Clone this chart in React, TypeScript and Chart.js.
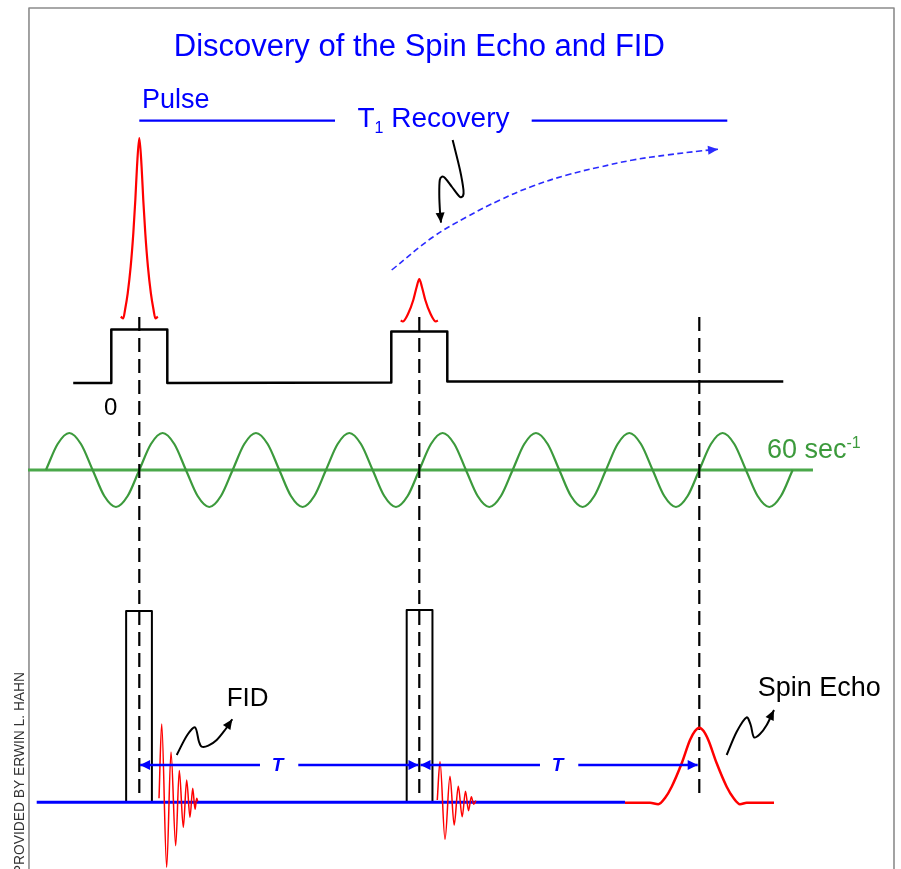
import React, { useEffect, useRef } from "react";
import { Chart, registerables } from "chart.js";

Chart.register(...registerables);

// x axis: time in ms from the centre of the first pulse (tau = 50 ms = three cycles of 60 Hz)
// y axis: vertical position on the sheet (diagram units, 0 = top)
const TIME_MIN = -24.875;
const TIME_MAX = 136.02;
const SHEET_TOP = 0;
const SHEET_BOTTOM = 869;

// ---------- data ----------
// black RF gate trace
const gateT = [-11.8, -5, -5, 5, 5, 45, 45, 55, 55, 115];
const gateY = [383, 383, 329.5, 329.5, 383, 382.5, 331.5, 331.5, 381.5, 381.5];

// red pulse envelopes
const pulse1T = [-3.32, -2.86, -2.55, -2.07, -1.54, -1.07, -0.71, -0.41, 0, 0.41, 0.71, 1.07, 1.54, 2.07, 2.55, 2.86, 3.32];
const pulse1Y = [316.7, 318.3, 310, 293.3, 266.7, 233.3, 200, 166.7, 138, 166.7, 200, 233.3, 266.7, 293.3, 310, 318.3, 316.7];
const pulse2T = [46.68, 47.04, 48.04, 48.93, 49.54, 50, 50.46, 51.07, 51.96, 52.96, 53.32];
const pulse2Y = [320.5, 321.5, 313.3, 300, 286.7, 279, 286.7, 300, 313.3, 321.5, 320.5];

// 60 Hz reference sine, sampled every eighth of a cycle
const sineT = [
  -16.67, -14.58, -12.5, -10.42, -8.33, -6.25, -4.17, -2.08,
  0, 2.08, 4.17, 6.25, 8.33, 10.42, 12.5, 14.58,
  16.67, 18.75, 20.83, 22.92, 25, 27.08, 29.17, 31.25,
  33.33, 35.42, 37.5, 39.58, 41.67, 43.75, 45.83, 47.92,
  50, 52.08, 54.17, 56.25, 58.33, 60.42, 62.5, 64.58,
  66.67, 68.75, 70.83, 72.92, 75, 77.08, 79.17, 81.25,
  83.33, 85.42, 87.5, 89.58, 91.67, 93.75, 95.83, 97.92,
  100, 102.08, 104.17, 106.25, 108.33, 110.42, 112.5, 114.58,
  116.67,
];
const sineY = [
  470, 444, 433, 444, 470, 496, 507, 496,
  470, 444, 433, 444, 470, 496, 507, 496,
  470, 444, 433, 444, 470, 496, 507, 496,
  470, 444, 433, 444, 470, 496, 507, 496,
  470, 444, 433, 444, 470, 496, 507, 496,
  470, 444, 433, 444, 470, 496, 507, 496,
  470, 444, 433, 444, 470, 496, 507, 496,
  470, 444, 433, 444, 470, 496, 507, 496,
  470,
];
const sineAxisT = [-19.875, 120.3];
const sineAxisY = [470, 470];

// timing markers (pulse 1, pulse 2, echo)
const markerT = [0, 50, 100];
const markerY = [317, 797];

// lower trace: pulse rectangles
const rect1T = [-2.35, -2.35, 2.25, 2.25];
const rect1Y = [802, 611, 611, 802];
const rect2T = [47.75, 47.75, 52.35, 52.35];
const rect2Y = [802, 610, 610, 802];
const lowerAxisT = [-18.32, 86.73];
const lowerAxisY = [802.3, 802.3];

// free induction decays
const fid1T = [3.52, 4.0, 4.89, 5.66, 6.5, 7.14, 7.86, 8.46, 9.05, 9.54, 9.95, 10.25, 10.43];
const fid1Y = [798.3, 724, 867.3, 752, 845.7, 770.5, 827.3, 780, 817.3, 788.3, 809.3, 798.3, 801.5];
const fid2T = [53.21, 53.7, 54.59, 55.48, 56.23, 56.96, 57.66, 58.25, 58.79, 59.29, 59.71, 60.13];
const fid2Y = [800, 761.7, 839.3, 776.3, 825, 786.3, 816.7, 791.2, 810.7, 796.7, 804.2, 800.7];

// spin echo
const echoT = [86.73, 91.2, 92.68, 93.88, 95.07, 96.86, 98.34, 99.23, 100, 100.77, 101.61, 103.11, 104.89, 106.11, 107.27, 108.46, 113.34];
const echoY = [802.7, 802.7, 804.2, 798, 786.7, 763.3, 740, 731, 727.7, 731, 740, 763.3, 786.7, 798, 804.2, 802.7, 802.7];

// tau arrows (null = gap for the label)
const tau1T = [0.14, 21.55, 25, 28.39, 49.86];
const tau2T = [50.21, 71.55, 75, 78.39, 99.71];
const tauY = [765, 765, null, 765, 765];

// header rules
const pulseRuleT = [0, 34.95];
const recoveryRuleT = [70.07, 105.0];
const ruleY = [120.6, 120.6];

// T1 recovery dashed curve
const recoveryT = [45.07, 52.45, 58.46, 64.41, 70.3, 76.38, 82.27, 88.16, 94.23, 100.12, 103.34];
const recoveryY = [270, 237, 217, 200, 186, 175, 167, 160, 155, 151, 149.3];

// squiggle pointer arrows
const t1PointerT = [55.96, 57.27, 57.89, 57.8, 57.27, 55.84, 54.59, 54.05, 53.66, 53.57, 53.7, 53.88];
const t1PointerY = [140, 170, 190, 196, 197, 187, 178, 176.7, 180, 195, 212, 222.7];
const fidPointerT = [6.68, 8.57, 9.95, 10.66, 11.14, 12.32, 13.82, 15.3, 16.61];
const fidPointerY = [755, 735, 727.3, 741.7, 746.7, 745.7, 740, 730, 719.3];
const echoPointerT = [104.89, 106.68, 108.46, 109.18, 109.77, 110.84, 112.04, 113.34];
const echoPointerY = [755, 731.7, 717.3, 725, 737.3, 734, 725, 710];

// sheet frame
const frameT = [-19.7, -19.7, 134.77, 134.77];
const frameY = [900, 8, 8, 900];

// ---------- styling ----------
const FONT = '"Liberation Sans", Arial, Helvetica, sans-serif';
const BLUE = "#0000ff";
const RED = "#ff0000";
const GREEN = "#3c9a3c";
const BLACK = "#000000";

type Part = { text: string; size: number; dy?: number; style?: string };
type Label = {
  x: number;
  y: number;
  parts: Part[];
  color: string;
  align: "left" | "center" | "right";
  rotate?: number;
  stretch?: number;
};

const labels: Label[] = [
  { x: 50, y: 56, align: "center", color: BLUE, parts: [{ text: "Discovery of the Spin Echo and FID", size: 31 }] },
  { x: 0.48, y: 108, align: "left", color: BLUE, parts: [{ text: "Pulse", size: 27 }] },
  {
    x: 38.96, y: 127, align: "left", color: BLUE,
    parts: [{ text: "T", size: 28 }, { text: "1", size: 16, dy: 6 }, { text: " Recovery", size: 28 }],
  },
  { x: -5.09, y: 415, align: "center", color: BLACK, parts: [{ text: "0", size: 24 }] },
  {
    x: 112.09, y: 457.5, align: "left", color: GREEN,
    parts: [{ text: "60 sec", size: 27 }, { text: "-1", size: 16, dy: -10 }],
  },
  { x: 15.61, y: 706, align: "left", color: BLACK, parts: [{ text: "FID", size: 26 }] },
  { x: 110.43, y: 696, align: "left", color: BLACK, parts: [{ text: "Spin Echo", size: 27 }] },
  { x: 24.68, y: 771, align: "center", color: BLUE, parts: [{ text: "T", size: 19, style: "italic bold" }] },
  { x: 74.68, y: 771, align: "center", color: BLUE, parts: [{ text: "T", size: 19, style: "italic bold" }] },
  {
    x: -20.59, y: 672, align: "right", color: "#333333", rotate: -90, stretch: 0.92,
    parts: [{ text: "PROVIDED BY ERWIN L. HAHN", size: 15 }],
  },
];

const pts = (xs: number[], ys: (number | null)[]) => xs.map((x, i) => ({ x, y: ys[i] }));

type Layer = Record<string, any>;

const layers: Layer[] = [
  { data: pts(frameT, frameY), borderColor: "#8c8c8c", borderWidth: 1.6 },
  { data: pts(sineAxisT, sineAxisY), borderColor: "#4aa84a", borderWidth: 3 },
  { data: pts(sineT, sineY), borderColor: GREEN, borderWidth: 2.2, cubicInterpolationMode: "monotone" },
  { data: pts(gateT, gateY), borderColor: BLACK, borderWidth: 2.5 },
  { data: pts(pulse1T, pulse1Y), borderColor: RED, borderWidth: 2.2, cubicInterpolationMode: "monotone" },
  { data: pts(pulse2T, pulse2Y), borderColor: RED, borderWidth: 2.2, cubicInterpolationMode: "monotone" },
  { data: pts(pulseRuleT, ruleY), borderColor: BLUE, borderWidth: 2.3 },
  { data: pts(recoveryRuleT, ruleY), borderColor: BLUE, borderWidth: 2.3 },
  { data: pts(recoveryT, recoveryY), borderColor: "#2b2bff", borderWidth: 1.6, borderDash: [6, 3.5], tension: 0.4, arrowEnd: [10, 4.5] },
  { data: pts(t1PointerT, t1PointerY), borderColor: BLACK, borderWidth: 2, tension: 0.3, arrowEnd: [10, 4.5] },
  { data: pts(rect1T, rect1Y), borderColor: BLACK, borderWidth: 2 },
  { data: pts(rect2T, rect2Y), borderColor: BLACK, borderWidth: 2 },
  { data: pts(lowerAxisT, lowerAxisY), borderColor: BLUE, borderWidth: 3 },
  ...markerT.map((t) => ({ data: pts([t, t], markerY), borderColor: BLACK, borderWidth: 2.2, borderDash: [14, 7] })),
  { data: pts(fid1T, fid1Y), borderColor: RED, borderWidth: 1.5, cubicInterpolationMode: "monotone" },
  { data: pts(fid2T, fid2Y), borderColor: RED, borderWidth: 1.5, cubicInterpolationMode: "monotone" },
  { data: pts(echoT, echoY), borderColor: RED, borderWidth: 2.5, cubicInterpolationMode: "monotone" },
  { data: pts(tau1T, tauY), borderColor: BLUE, borderWidth: 2.5, arrowStart: [10, 5], arrowEnd: [10, 5] },
  { data: pts(tau2T, tauY), borderColor: BLUE, borderWidth: 2.5, arrowStart: [10, 5], arrowEnd: [10, 5] },
  { data: pts(fidPointerT, fidPointerY), borderColor: BLACK, borderWidth: 2, tension: 0.3, arrowEnd: [10, 4.5] },
  { data: pts(echoPointerT, echoPointerY), borderColor: BLACK, borderWidth: 2, tension: 0.3, arrowEnd: [10, 4.5] },
];

const datasets = layers.map((l, i) => ({
  pointRadius: 0,
  pointHoverRadius: 0,
  fill: false,
  borderJoinStyle: "round",
  ...l,
  order: layers.length - i,
}));

const arrowPlugin = {
  id: "arrowHeads",
  afterDatasetsDraw(chart: any) {
    const ctx = chart.ctx as CanvasRenderingContext2D;
    chart.data.datasets.forEach((ds: any, i: number) => {
      if (!ds.arrowEnd && !ds.arrowStart) return;
      const meta = chart.getDatasetMeta(i);
      const p = meta.data.filter((e: any) => !e.skip);
      const head = (tip: any, from: any, spec: number[]) => {
        const [len, half] = spec;
        const a = Math.atan2(tip.y - from.y, tip.x - from.x);
        const bx = tip.x - len * Math.cos(a);
        const by = tip.y - len * Math.sin(a);
        ctx.save();
        ctx.fillStyle = ds.borderColor;
        ctx.beginPath();
        ctx.moveTo(tip.x, tip.y);
        ctx.lineTo(bx + half * Math.sin(a), by - half * Math.cos(a));
        ctx.lineTo(bx - half * Math.sin(a), by + half * Math.cos(a));
        ctx.closePath();
        ctx.fill();
        ctx.restore();
      };
      if (ds.arrowEnd && p.length > 1) head(p[p.length - 1], p[p.length - 2], ds.arrowEnd);
      if (ds.arrowStart && p.length > 1) head(p[0], p[1], ds.arrowStart);
    });
  },
};

const textPlugin = {
  id: "diagramText",
  afterDatasetsDraw(chart: any) {
    const ctx = chart.ctx as CanvasRenderingContext2D;
    const xs = chart.scales.x;
    const ys = chart.scales.y;
    labels.forEach((lab) => {
      const px = xs.getPixelForValue(lab.x);
      const py = ys.getPixelForValue(lab.y);
      ctx.save();
      ctx.translate(px, py);
      if (lab.rotate) ctx.rotate((lab.rotate * Math.PI) / 180);
      if (lab.stretch) ctx.scale(lab.stretch, 1);
      ctx.textAlign = "left";
      ctx.textBaseline = "alphabetic";
      ctx.fillStyle = lab.color;
      const fontOf = (p: Part) => `${p.style ? p.style + " " : ""}${p.size}px ${FONT}`;
      let total = 0;
      lab.parts.forEach((p) => {
        ctx.font = fontOf(p);
        total += ctx.measureText(p.text).width;
      });
      let cx = lab.align === "center" ? -total / 2 : lab.align === "right" ? -total : 0;
      lab.parts.forEach((p) => {
        ctx.font = fontOf(p);
        ctx.fillText(p.text, cx, p.dy || 0);
        cx += ctx.measureText(p.text).width;
      });
      ctx.restore();
    });
  },
};

export default function App() {
  const ref = useRef<HTMLCanvasElement>(null);
  useEffect(() => {
    const canvas = ref.current;
    if (!canvas) return;
    const chart = new Chart(canvas, {
      type: "line",
      data: { datasets: datasets as any },
      options: {
        animation: false,
        responsive: false,
        events: [],
        layout: { padding: 0 },
        plugins: {
          legend: { display: false },
          tooltip: { enabled: false },
          title: { display: false },
        },
        scales: {
          x: { type: "linear", min: TIME_MIN, max: TIME_MAX, display: false },
          y: { type: "linear", min: SHEET_TOP, max: SHEET_BOTTOM, reverse: true, display: false },
        },
      },
      plugins: [arrowPlugin, textPlugin],
    });
    return () => chart.destroy();
  }, []);
  return (
    <canvas
      ref={ref}
      width={901}
      height={869}
      style={{ position: "fixed", left: 0, top: 0, display: "block", background: "#ffffff" }}
    />
  );
}
